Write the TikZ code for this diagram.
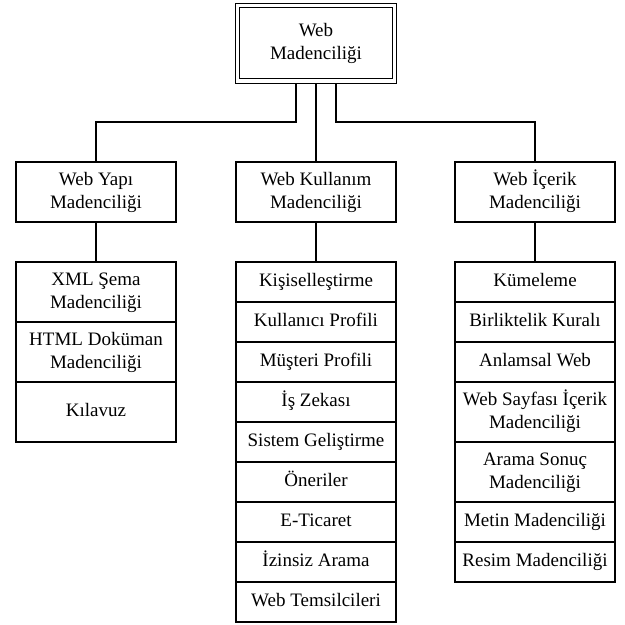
\documentclass[tikz,border=0pt]{standalone}
\usepackage{fontspec}
\setmainfont{Liberation Serif}
\usetikzlibrary{positioning}
\newcommand{\twolines}[2]{\strut #1\\\strut #2}
\begin{document}
\begin{tikzpicture}[x=1pt,y=-1pt,
  every node/.style={font=\fontsize{19}{23.3}\selectfont, align=center, inner sep=0pt, outer sep=0pt},
  box/.style={draw, line width=1.5pt, minimum width=160pt},
  one/.style={box, minimum height=40pt, execute at begin node=\strut},
  two/.style={box, minimum height=60pt},
  conn/.style={line width=1.5pt}]
\useasboundingbox (0,0) rectangle (625,625);
\node[draw, double, line width=1.3pt, double distance=3.2pt, minimum width=157pt, minimum height=75.5pt, outer sep=2.9pt] (root) at (316,43.3) {\twolines{Web}{Madenciliği}};
% level 2
\node[two] (yapi) at (96,192) {\twolines{Web Yapı}{Madenciliği}};
\node[two] (kull) at (316,192) {\twolines{Web Kullanım}{Madenciliği}};
\node[two] (icerik) at (535,192) {\twolines{Web İçerik}{Madenciliği}};
% left column
\node[two, anchor=north] (xml) at (96,262) {\twolines{XML Şema}{Madenciliği}};
\node[two, below=0pt of xml] (html) {\twolines{HTML Doküman}{Madenciliği}};
\node[two, below=0pt of html, execute at begin node=\strut] (kilavuz) {Kılavuz};
% middle column
\node[one, anchor=north] (kis) at (316,262) {Kişiselleştirme};
\node[one, below=0pt of kis] (kp) {Kullanıcı Profili};
\node[one, below=0pt of kp] (mp) {Müşteri Profili};
\node[one, below=0pt of mp] (iz) {İş Zekası};
\node[one, below=0pt of iz] (sg) {Sistem Geliştirme};
\node[one, below=0pt of sg] (on) {Öneriler};
\node[one, below=0pt of on] (et) {E-Ticaret};
\node[one, below=0pt of et] (ia) {İzinsiz Arama};
\node[one, below=0pt of ia] (wt) {Web Temsilcileri};
% right column
\node[one, anchor=north] (kum) at (535,262) {Kümeleme};
\node[one, below=0pt of kum] (bk) {Birliktelik Kuralı};
\node[one, below=0pt of bk] (aw) {Anlamsal Web};
\node[two, below=0pt of aw] (ws) {\twolines{Web Sayfası İçerik}{Madenciliği}};
\node[two, below=0pt of ws] (as) {\twolines{Arama Sonuç}{Madenciliği}};
\node[one, below=0pt of as] (mm) {Metin Madenciliği};
\node[one, below=0pt of mm] (rm) {Resim Madenciliği};
% connectors
\draw[conn] ([xshift=-20pt]root.south) -- ++(0,38) -| (yapi.north);
\draw[conn] (root.south) -- (root.south |- kull.north);
\draw[conn] ([xshift=20pt]root.south) -- ++(0,38) -| (icerik.north);
\draw[conn] (yapi.south) -- (xml.north);
\draw[conn] (kull.south) -- (kis.north);
\draw[conn] (icerik.south) -- (kum.north);
\end{tikzpicture}
\end{document}
